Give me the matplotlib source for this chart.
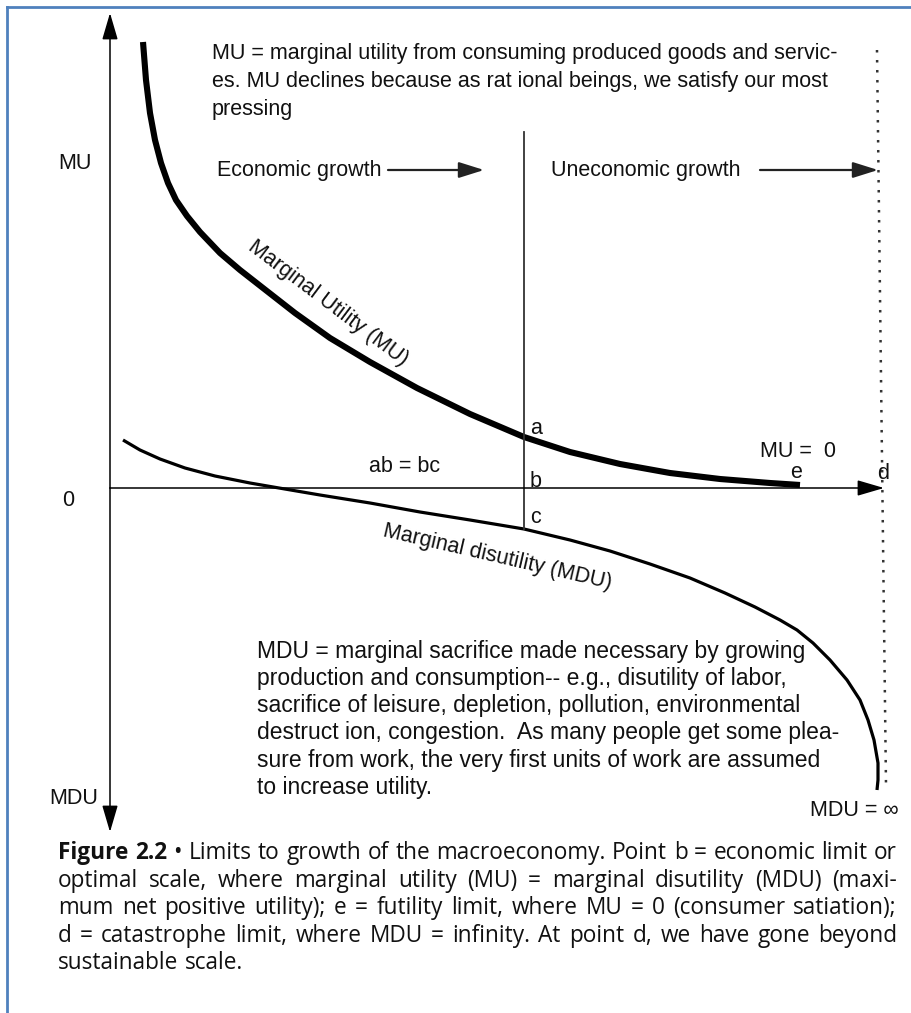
import matplotlib
matplotlib.use("Agg")
import matplotlib.pyplot as plt
from matplotlib.lines import Line2D

# chart values (quantity on x, utility on y; origin where the axes cross)
mu_x = [33, 36, 40, 45, 51, 58, 66, 77, 90, 110, 130, 153, 185, 220, 260, 307, 360, 414, 460, 510, 560, 610, 660, 690]
mu_y = [446, 408, 375, 348, 325, 305, 288, 272, 256, 235, 218, 200, 175, 150, 126, 100, 74, 51, 36, 24, 15, 9, 5, 3]

mdu_x = [13, 30, 50, 75, 105, 140, 169, 210, 260, 310, 360, 414, 460, 500, 540, 580, 615, 645,
         670, 687, 703, 720, 737, 750, 758, 764, 768, 768, 767]
mdu_y = [48, 38, 29, 20, 12, 5, 0, -7, -15, -24, -32, -41, -52, -63, -76, -90, -105, -119,
         -132, -142, -155, -172, -192, -212, -232, -252, -275, -292, -302]

optimum_x = 414   # point b
optimum_top = 356
limit_x = [767, 776]   # catastrophe limit d (dotted line, slightly skewed)
limit_y = [438, -297]

top_note = ["MU = marginal utility from consuming produced goods and servic-",
            "es. MU declines because as rat ional beings, we satisfy our most",
            "pressing"]
bottom_note = ["MDU = marginal sacrifice made necessary by growing",
               "production and consumption-- e.g., disutility of labor,",
               "sacrifice of leisure, depletion, pollution, environmental",
               "destruct ion, congestion.  As many people get some plea-",
               "sure from work, the very first units of work are assumed",
               "to increase utility."]
caption = ["Figure 2.2 \u2022 Limits to growth of the macroeconomy. Point b = economic limit or",
           "optimal scale, where marginal utility (MU) = marginal disutility (MDU) (maxi-",
           "mum net positive utility); e = futility limit, where MU = 0 (consumer satiation);",
           "d = catastrophe limit, where MDU = infinity. At point d, we have gone beyond",
           "sustainable scale."]

W, H = 912, 1013
OX, OY = 110, 488


def P(px, py):
    # page pixel -> data coords
    return px - OX, OY - py


fig = plt.figure(figsize=(W / 100, H / 100), dpi=100)
ax = fig.add_axes([0, 0, 1, 1])
ax.set_xlim(-OX, W - OX)
ax.set_ylim(OY - H, OY)
ax.axis("off")

sans = "Liberation Sans"
capfont = "Open Sans"

# blue frame (top and left only)
blue = "#4f81bd"
ax.add_line(Line2D([P(7, 0)[0], P(7, 0)[0]], [P(0, 7)[1], P(0, H)[1]], color=blue, lw=2))
ax.add_line(Line2D([P(7, 0)[0], P(W, 0)[0]], [P(0, 7)[1], P(0, 7)[1]], color=blue, lw=2))

# axes with arrows
arr = dict(arrowstyle="-|>,head_length=0.75,head_width=0.22", color="black", lw=1.1,
           mutation_scale=22, shrinkA=0, shrinkB=0)
ax.annotate("", xy=P(110, 13), xytext=(0, 0), arrowprops=arr)
ax.annotate("", xy=P(110, 832), xytext=(0, 0), arrowprops=arr)
ax.annotate("", xy=P(884, 488), xytext=(0, 0), arrowprops=arr)

# curves
ax.plot(mu_x, mu_y, color="black", lw=4.4, solid_capstyle="butt", solid_joinstyle="round")
ax.plot(mdu_x, mdu_y, color="black", lw=2.3, solid_capstyle="butt", solid_joinstyle="round")

# optimum line and catastrophe limit
ax.plot([optimum_x, optimum_x], [mdu_y[11], optimum_top], color="#333333", lw=1.3)
ax.plot(limit_x, limit_y, color="#333333", lw=1.8, linestyle=(0, (1, 3)))

# growth arrows
garr = dict(arrowstyle="-|>,head_length=0.7,head_width=0.22", color="#222222", lw=1.6,
            mutation_scale=22, shrinkA=0, shrinkB=0)
ax.annotate("", xy=P(484, 170), xytext=P(388, 170), arrowprops=garr)
ax.annotate("", xy=P(878, 170), xytext=P(760, 170), arrowprops=garr)

fs = 15.5
tk = dict(family=sans, fontsize=fs, color="#111111")
ax.text(*P(217, 170), "Economic growth", va="center", ha="left", **tk)
ax.text(*P(551, 170), "Uneconomic growth", va="center", ha="left", **tk)

for i, line in enumerate(top_note):
    ax.text(*P(212, 53 + i * 28), line, va="center", ha="left", **tk)
bk = dict(tk, fontsize=16.5)
for i, line in enumerate(bottom_note):
    ax.text(*P(257, 651 + i * 27.3), line, va="center", ha="left", **bk)

ax.text(*P(75, 163), "MU", va="center", ha="center", **tk)
ax.text(*P(68, 500), "0", va="center", ha="center", **tk)
ax.text(*P(74, 798), "MDU", va="center", ha="center", **tk)
ax.text(*P(854, 810), "MDU = \u221e", va="center", ha="center", **tk)

ax.text(*P(536, 428), "a", va="center", ha="center", **tk)
ax.text(*P(536, 481), "b", va="center", ha="center", **tk)
ax.text(*P(536, 517), "c", va="center", ha="center", **tk)
ax.text(*P(405, 466), "ab = bc", va="center", ha="center", **tk)
ax.text(*P(798, 451), "MU =  0", va="center", ha="center", **tk)
ax.text(*P(796, 472), "e", va="center", ha="center", **tk)
ax.text(*P(883, 473), "d", va="center", ha="center", **tk)

ax.text(*P(328, 303), "Marginal Utility (MU)", rotation=-37, va="center", ha="center",
        rotation_mode="anchor", **tk)
ax.text(*P(497, 557), "Marginal disutility (MDU)", rotation=-13, va="center", ha="center",
        rotation_mode="anchor", **tk)

# caption, justified between two edges like the book
cfs = 16.3
cx0, cx1 = 58, 897
fig.canvas.draw()
r = fig.canvas.get_renderer()
for i, line in enumerate(caption):
    y = P(0, 853 + i * 27.6)[1]
    words = line.split(" ")
    objs = []
    for j, w in enumerate(words):
        bold = (i == 0 and j < 2)
        objs.append(ax.text(0, y, w, va="center", ha="left", family=capfont, fontsize=cfs,
                            fontweight="bold" if bold else "normal", color="#111111"))
    widths = [o.get_window_extent(renderer=r).width for o in objs]
    space = objs[0].get_window_extent(renderer=r).height * 0.26
    if i < len(caption) - 1:
        gap = (cx1 - cx0 - sum(widths)) / (len(words) - 1)
    else:
        gap = space
    xpos = cx0
    for o, wd in zip(objs, widths):
        o.set_x(P(xpos, 0)[0])
        xpos += wd + gap

fig.savefig("out.png", dpi=100)
